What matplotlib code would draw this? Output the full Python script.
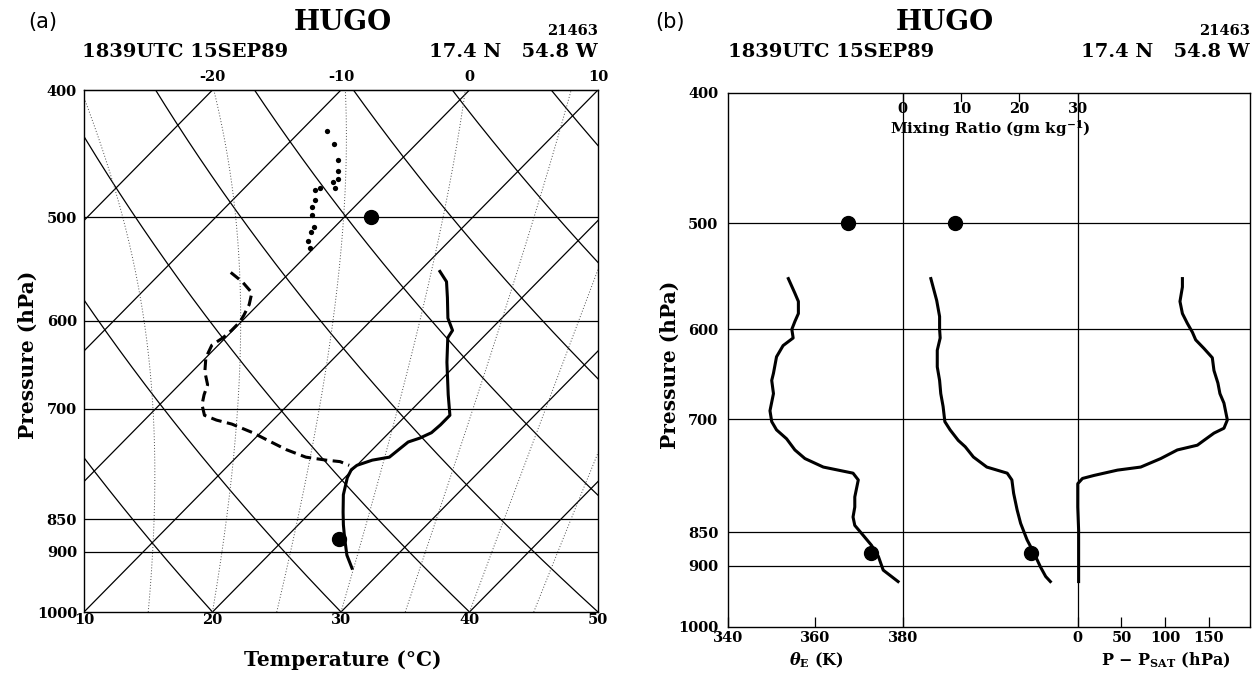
import numpy as np
import matplotlib.pyplot as plt

plt.rcParams['font.family'] = 'DejaVu Serif'
plt.rcParams['font.weight'] = 'bold'
plt.rcParams['mathtext.fontset'] = 'custom'
plt.rcParams['mathtext.rm'] = 'DejaVu Serif:bold'
plt.rcParams['mathtext.it'] = 'DejaVu Serif:italic:bold'
plt.rcParams['mathtext.bf'] = 'DejaVu Serif:bold'
plt.rcParams['axes.unicode_minus'] = False

# ---- panel (a): dropsonde temperature / dewpoint (hPa, degC)
temp_p = [550, 560, 576, 597, 610, 618, 645, 683, 708, 720, 730, 737, 742,
          762, 766, 773, 779, 790, 814, 839, 858, 878, 905, 926]
temp_t = [11.6, 12.9, 14.2, 15.8, 17.1, 17.3, 19.1, 21.7, 23.4, 23.4, 23.3,
          22.8, 22.2, 21.9, 20.8, 20.0, 19.9, 20.2, 21.2, 22.5, 23.5, 24.6,
          26.1, 27.5]
dewp_p = [551, 560, 571, 583, 594, 601, 610, 618, 626, 640, 656, 671, 683,
          695, 708, 714, 719, 730, 739, 752, 762, 766, 768, 773]
dewp_t = [-4.6, -3.0, -1.4, -0.7, -0.3, -0.1, -0.1, -0.2, -0.5, 0.0, 1.0,
          2.2, 2.7, 3.3, 4.3, 5.6, 7.1, 9.4, 11.0, 13.3, 15.4, 17.2, 18.4,
          19.4]
# upper-level dotted profile
upper_p = [430, 440, 452, 461, 468, 470, 475,
           475, 477, 485, 491, 498, 509, 513, 521, 528]
upper_t = [-7.9, -6.4, -4.9, -4.0, -3.4, -3.6, -3.0,
           -4.1, -4.3, -3.6, -3.3, -2.7, -1.6, -1.5, -1.0, -0.3]
# flight-level observations
flight_p = [500, 879]
flight_t = [2.1, 24.2]

# ---- panel (b)
thetae_p = [550, 564, 572, 584, 592, 600, 609, 617, 629, 647, 655, 670, 690,
            703, 713, 724, 738, 749, 760, 768, 777, 800, 814, 828, 840, 852,
            869, 886, 907, 917, 925]
thetae = [353.8, 355.3, 356.1, 356.1, 355.3, 354.6, 354.9, 352.6, 351.1,
          350.4, 350.0, 350.4, 349.6, 350.0, 351.1, 353.4, 355.3, 357.6,
          361.8, 368.6, 369.8, 369.0, 369.0, 368.6, 369.0, 370.6, 372.8,
          374.4, 375.5, 377.4, 378.9]
mixr_p = [550, 571, 587, 600, 609, 622, 640, 655, 670, 685, 703, 713, 726,
          734, 747, 760, 768, 777, 795, 818, 837, 861, 881, 902, 917, 925]
mixr = [4.8, 5.8, 6.3, 6.3, 6.4, 5.9, 5.9, 6.3, 6.5, 6.9, 7.2, 8.1, 9.5,
        10.7, 12.1, 14.4, 17.9, 18.7, 19.0, 19.6, 20.2, 21.3, 22.5, 23.6,
        24.5, 25.3]
psat_p = [550, 558, 572, 584, 594, 603, 611, 620, 630, 644, 658, 670, 681,
          701, 711, 717, 726, 732, 738, 749, 760, 764, 771, 775, 782, 814,
          847, 904, 925]
psat = [119.7, 119.7, 116.9, 119.7, 125.4, 131.1, 134.9, 144.3, 153.9, 155.8,
        160.3, 162.6, 167.2, 171.1, 167.2, 155.8, 144.3, 136.8, 113.9, 94.9,
        72.0, 45.4, 18.6, 5.4, 0.0, 0.0, 1.0, 1.0, 1.0]
dot_b_p = [500, 881]
dot_b_thetae = [367.4, 372.8]
dot_b_mixr = [9.0, 21.9]

pressure_ticks = [400, 500, 600, 700, 850, 900, 1000]
isobars = [500, 600, 700, 850, 900]

SKEW = 40 / np.log(2.5)


def skew_x(t, p):
    return np.asarray(t) + SKEW * np.log(1000.0 / np.asarray(p))


def moist_adiabat(t0, p):
    rd, cp, lv, eps = 287.04, 1005.7, 2.501e6, 0.622

    def f(T, pp):
        es = 6.112 * np.exp(17.67 * (T - 273.15) / (T - 29.65))
        rs = eps * es / (pp - es)
        return (rd * T + lv * rs) / (cp + lv * lv * rs * eps / (rd * T * T)) / pp

    T = t0 + 273.15
    out = [T]
    for i in range(1, len(p)):
        dp = p[i] - p[i - 1]
        k1 = f(T, p[i - 1])
        k2 = f(T + k1 * dp, p[i])
        T = T + 0.5 * (k1 + k2) * dp
        out.append(T)
    return np.array(out) - 273.15


W, H = 1253, 675
fig = plt.figure(figsize=(W / 100, H / 100), dpi=100)


def fx(x):
    return x / W


def fy(y):
    return 1 - y / H


def setup_pressure(ax, pad):
    ax.set_yscale('log')
    ax.set_ylim(1000, 400)
    ax.set_yticks(pressure_ticks)
    ax.set_yticklabels([str(v) for v in pressure_ticks])
    ax.minorticks_off()
    ax.tick_params(axis='y', length=0, pad=pad, labelsize=10.5)
    for s in ax.spines.values():
        s.set_linewidth(1.0)


# ================= panel (a) =================
ax = fig.add_axes([fx(84), fy(612), fx(514), 522 / H])
setup_pressure(ax, 5)
ax.set_xlim(10, 50)
ax.set_xticks([10, 20, 30, 40, 50])
ax.tick_params(axis='x', length=0, pad=1, labelsize=10.5)

pg = np.geomspace(1000, 400, 300)
for t0 in range(-60, 60, 10):
    ax.plot(skew_x(t0, pg), pg, color='k', lw=0.9)
for th in range(10, 170, 10):
    tt = (th + 273.15) * (pg / 1000.0) ** 0.2857 - 273.15
    ax.plot(skew_x(tt, pg), pg, color='k', lw=0.9)
for tw in range(15, 50, 5):
    ax.plot(skew_x(moist_adiabat(tw, pg), pg), pg, color='0.3', lw=0.7,
            ls=(0, (1, 2)))
for pb in isobars:
    ax.axhline(pb, color='k', lw=0.9)

ax.plot(skew_x(temp_t, temp_p), temp_p, color='k', lw=2.2)
ax.plot(skew_x(dewp_t, dewp_p), dewp_p, color='k', lw=2.2, ls=(0, (3.5, 1.8)))
ax.plot(skew_x(upper_t, upper_p), upper_p, 'o', color='k', ms=3.8, mec='none')
ax.plot(skew_x(flight_t, flight_p), flight_p, 'o', color='k', ms=10)

sec = ax.secondary_xaxis('top', functions=(lambda x: x - 40, lambda t: t + 40))
sec.set_xticks([-20, -10, 0, 10])
sec.tick_params(length=0, pad=4, labelsize=10.5)

fig.text(fx(28), fy(22), '(a)', family='DejaVu Sans', weight='normal',
         fontsize=15, va='center')
fig.text(fx(343), fy(22), 'HUGO', fontsize=20, ha='center', va='center')
fig.text(fx(598), fy(31), '21463', fontsize=10.5, ha='right', va='center')
fig.text(fx(82), fy(52), '1839UTC 15SEP89', fontsize=14, va='center')
fig.text(fx(598), fy(52), '17.4 N   54.8 W', fontsize=14, ha='right',
         va='center')
fig.text(fx(28), fy(355), 'Pressure (hPa)', fontsize=14.5, rotation=90,
         ha='center', va='center')
fig.text(fx(343), fy(660), 'Temperature (°C)', fontsize=14.5, ha='center',
         va='center')

# ================= panel (b) =================
bx = fig.add_axes([fx(728), fy(627), fx(522), 534 / H])
setup_pressure(bx, 7)
bx.set_xlim(340, 459.4)


def q_to_x(q):
    return 380 + np.asarray(q) * 40 / 30.0


def dp_to_x(d):
    return 420 + np.asarray(d) * 0.2


bx.set_xticks([340, 360, 380, 420, 430, 440, 450])
bx.set_xticklabels(['340', '360', '380', '0', '50', '100', '150'])
bx.tick_params(axis='x', direction='in', length=7, width=0.9, pad=3,
               labelsize=10.5)
for pb in isobars:
    bx.axhline(pb, color='k', lw=0.9)
bx.axvline(380, color='k', lw=0.9)
bx.axvline(420, color='k', lw=0.9)

qt = [0, 10, 20, 30]
tr = bx.get_xaxis_transform()
for q in qt:
    bx.plot([q_to_x(q)] * 2, [1, 0.985], color='k', lw=0.9, transform=tr)
    bx.text(q_to_x(q), 0.970, str(q), transform=tr, ha='center', va='center',
            fontsize=10.5)
bx.text(q_to_x(15), 0.933, 'Mixing Ratio (gm kg$^{-1}$)', transform=tr,
        ha='center', va='center', fontsize=11)

bx.plot(thetae, thetae_p, color='k', lw=2.2)
bx.plot(q_to_x(mixr), mixr_p, color='k', lw=2.2)
bx.plot(dp_to_x(psat), psat_p, color='k', lw=2.2)
bx.plot(dot_b_thetae, dot_b_p, 'o', color='k', ms=10)
bx.plot(q_to_x(dot_b_mixr), dot_b_p, 'o', color='k', ms=10)

fig.text(fx(655), fy(22), '(b)', family='DejaVu Sans', weight='normal',
         fontsize=15, va='center')
fig.text(fx(945), fy(22), 'HUGO', fontsize=20, ha='center', va='center')
fig.text(fx(1250), fy(31), '21463', fontsize=10.5, ha='right', va='center')
fig.text(fx(728), fy(52), '1839UTC 15SEP89', fontsize=14, va='center')
fig.text(fx(1250), fy(52), '17.4 N   54.8 W', fontsize=14, ha='right',
         va='center')
fig.text(fx(670), fy(365), 'Pressure (hPa)', fontsize=14.5, rotation=90,
         ha='center', va='center')
fig.text(fx(816), fy(660), r'$\theta_{\rm E}$ (K)', fontsize=11.5,
         ha='center', va='center')
fig.text(fx(1166), fy(660), r'P $-$ P$_{\rm SAT}$ (hPa)', fontsize=11.5,
         ha='center', va='center')

fig.savefig('out.png', dpi=100)
